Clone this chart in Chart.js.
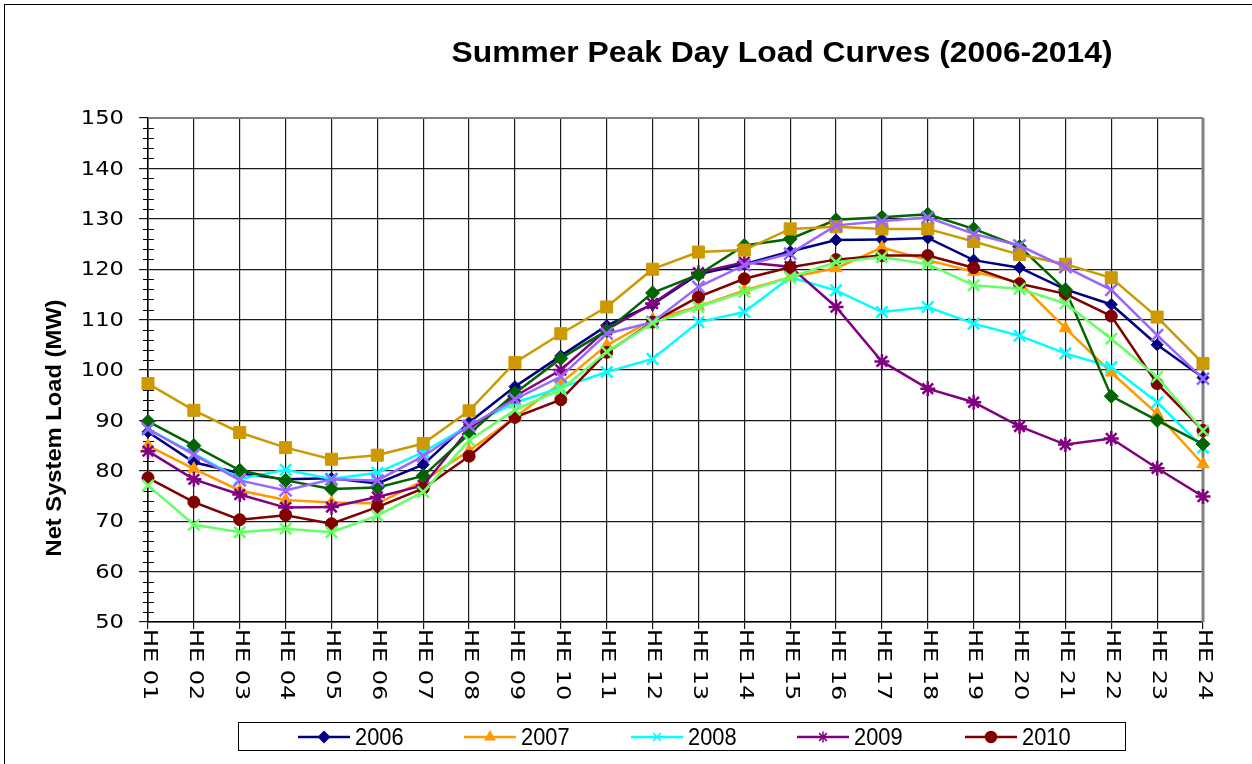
<!DOCTYPE html>
<html>
<head>
<meta charset="utf-8">
<title>Summer Peak Day Load Curves</title>
<script src="https://cdn.jsdelivr.net/npm/chart.js@4.4.1/dist/chart.umd.min.js"></script>
<style>
    html, body { margin: 0; padding: 0; background: #fff; }
    #wrap { width: 1252px; height: 764px; }
</style>
</head>
<body>
<div id="wrap"><canvas id="loadChart" width="1252" height="764"></canvas></div>
<script>
// Часы суток (ось X)
const hourLabels = ['HE 01', 'HE 02', 'HE 03', 'HE 04', 'HE 05', 'HE 06', 'HE 07', 'HE 08',
    'HE 09', 'HE 10', 'HE 11', 'HE 12', 'HE 13', 'HE 14', 'HE 15', 'HE 16',
    'HE 17', 'HE 18', 'HE 19', 'HE 20', 'HE 21', 'HE 22', 'HE 23', 'HE 24'];

// Нагрузка по годам, MW
const load2006 = [87.7, 81.7, 79.5, 78.3, 78.5, 77.5, 81.2, 89.6, 96.7, 102.8, 108.8, 113.0,
    119.0, 121.0, 123.5, 125.8, 125.9, 126.2, 121.8, 120.3, 116.0, 113.0, 105.0, 98.5];
const load2007 = [85.0, 80.4, 76.1, 74.2, 73.7, 73.5, 78.0, 84.0, 90.6, 97.4, 104.9, 110.0,
    112.6, 115.8, 118.4, 120.2, 124.3, 121.8, 119.5, 117.4, 108.3, 99.5, 91.3, 81.3];
const load2008 = [88.3, 83.4, 78.4, 80.2, 78.4, 79.6, 83.7, 89.0, 93.5, 96.5, 99.6, 102.2,
    109.5, 111.5, 118.4, 115.8, 111.5, 112.5, 109.2, 106.8, 103.3, 100.6, 93.6, 84.6];
const load2009 = [83.9, 78.3, 75.3, 72.7, 72.8, 74.8, 77.1, 88.3, 94.8, 100.0, 108.0, 113.2,
    119.3, 121.4, 120.5, 112.5, 101.7, 96.3, 93.6, 88.8, 85.2, 86.4, 80.5, 74.9];
const load2010 = [78.6, 73.8, 70.3, 71.2, 69.5, 72.8, 76.5, 82.9, 90.6, 94.1, 103.5, 109.5,
    114.5, 118.1, 120.4, 121.9, 122.7, 122.7, 120.3, 117.1, 115.1, 110.7, 97.3, 88.0];
const load2011 = [89.8, 85.0, 80.1, 78.1, 76.4, 76.7, 79.0, 87.3, 95.4, 102.3, 107.8, 115.3,
    118.9, 124.7, 126.0, 129.8, 130.3, 130.9, 128.0, 124.5, 115.9, 94.8, 90.0, 85.3];
const load2012 = [97.3, 92.0, 87.6, 84.6, 82.3, 83.1, 85.4, 91.9, 101.5, 107.2, 112.5, 120.0,
    123.4, 123.8, 128.0, 128.4, 128.0, 128.0, 125.5, 122.9, 121.0, 118.3, 110.5, 101.3];
const load2013 = [88.3, 83.2, 78.1, 76.1, 78.3, 78.1, 82.9, 88.9, 94.2, 98.7, 107.2, 109.5,
    116.5, 120.8, 123.1, 128.7, 129.5, 130.3, 127.0, 124.7, 120.4, 115.9, 106.9, 98.3];
const load2014 = [77.1, 69.3, 67.8, 68.5, 67.8, 71.1, 75.8, 86.0, 92.1, 96.1, 103.6, 109.3,
    112.5, 115.5, 118.4, 121.4, 122.4, 121.0, 116.8, 116.1, 113.2, 106.2, 98.6, 88.0];

const yearLabels = ['2006', '2007', '2008', '2009', '2010', '2011', '2012', '2013', '2014'];
const yMin = 50, yMax = 150, yStep = 10, yMinorStep = 2;

// Стиль серий (цвет, маркер, размер)
const seriesStyle = [
    { color: '#000080', point: 'rectRot', r: 6 },
    { color: '#FF9900', point: 'triangle', r: 7 },
    { color: '#00FFFF', point: 'crossRot', r: 8 },
    { color: '#800080', point: 'star', r: 7.5 },
    { color: '#800000', point: 'circle', r: 6 },
    { color: '#006400', point: 'rectRot', r: 7 },
    { color: '#CC9900', point: 'rect', r: 8.5 },
    { color: '#9966FF', point: 'crossRot', r: 8.5 },
    { color: '#66FF66', point: 'crossRot', r: 8 }
];
const seriesData = [load2006, load2007, load2008, load2009, load2010, load2011, load2012, load2013, load2014];

const datasets = seriesData.map((values, i) => {
    const st = seriesStyle[i];
    const isCross = st.point === 'crossRot' || st.point === 'star';
    return {
        label: yearLabels[i],
        data: values,
        borderColor: st.color,
        backgroundColor: st.color,
        borderWidth: 2.5,
        pointStyle: st.point,
        pointRadius: st.r,
        pointBorderWidth: isCross ? 2.5 : 1,
        pointBackgroundColor: st.color,
        pointBorderColor: st.color,
        tension: 0,
        order: seriesData.length - i   // более поздние годы поверх
    };
});

// Подписи, легенда и рамки
const decorPlugin = {
    id: 'decor',
    beforeDraw(chart) {
        const ctx = chart.ctx;
        ctx.save();
        ctx.fillStyle = '#fff';
        ctx.fillRect(0, 0, chart.width, chart.height);
        ctx.strokeStyle = '#000';
        ctx.lineWidth = 1;
        ctx.strokeRect(4.5, 4.5, chart.width + 20, chart.height + 20);
        ctx.restore();
    },
    beforeDatasetsDraw(chart) {
        const { ctx, chartArea, scales } = chart;
        ctx.save();
        // малые деления по Y
        ctx.strokeStyle = '#000';
        ctx.lineWidth = 1;
        for (let v = yMin; v <= yMax; v += yMinorStep) {
            if (v % yStep === 0) continue;
            const y = Math.round(scales.y.getPixelForValue(v)) + 0.5;
            ctx.beginPath();
            ctx.moveTo(chartArea.left - 5, y);
            ctx.lineTo(chartArea.left + 6, y);
            ctx.stroke();
        }
        // рамка области построения
        ctx.strokeStyle = '#808080';
        ctx.lineWidth = 2;
        ctx.beginPath();
        ctx.moveTo(chartArea.left, chartArea.top);
        ctx.lineTo(chartArea.right, chartArea.top);
        ctx.stroke();
        ctx.lineWidth = 3;
        ctx.beginPath();
        ctx.moveTo(chartArea.right, chartArea.top);
        ctx.lineTo(chartArea.right, chartArea.bottom);
        ctx.stroke();

        ctx.fillStyle = '#000';
        // подписи Y (чуть растянуты по ширине, как в оригинале)
        ctx.font = '20px "DejaVu Sans"';
        ctx.textAlign = 'right';
        ctx.textBaseline = 'middle';
        scales.y.ticks.forEach(t => {
            const y = scales.y.getPixelForValue(t.value);
            ctx.save();
            ctx.translate(124, y + 1);
            ctx.scale(1.13, 1);
            ctx.fillText(String(t.value), 0, 0);
            ctx.restore();
        });
        // подписи X, повернутые по часовой стрелке
        ctx.textAlign = 'left';
        hourLabels.forEach((lbl, i) => {
            const x = scales.x.getPixelForValue(i);
            ctx.save();
            ctx.translate(x + 1, chartArea.bottom + 7);
            ctx.rotate(Math.PI / 2);
            ctx.scale(1.2, 1);
            ctx.fillText(lbl, 0, 0);
            ctx.restore();
        });
        ctx.restore();
    },
    afterDraw(chart) {
        const ctx = chart.ctx;
        ctx.save();
        ctx.fillStyle = '#000';

        // заголовок
        const title = 'Summer Peak Day Load Curves (2006-2014)';
        ctx.font = 'bold 29px "Liberation Sans"';
        ctx.textAlign = 'center';
        ctx.textBaseline = 'alphabetic';
        let w = ctx.measureText(title).width;
        ctx.save();
        ctx.translate(782, 62);
        ctx.scale(661 / w, 1);
        ctx.fillText(title, 0, 0);
        ctx.restore();

        // подпись оси Y
        const yTitle = 'Net System Load (MW)';
        ctx.font = 'bold 22px "Liberation Sans"';
        ctx.textBaseline = 'middle';
        w = ctx.measureText(yTitle).width;
        ctx.save();
        ctx.translate(55, 428);
        ctx.rotate(-Math.PI / 2);
        ctx.scale(257 / w, 1);
        ctx.fillText(yTitle, 0, 0);
        ctx.restore();

        // легенда (видны только первые пять серий)
        ctx.strokeStyle = '#000';
        ctx.lineWidth = 1;
        ctx.strokeRect(238.5, 722.5, 887, 28);
        const legendY = 737;
        const startX = [298, 464, 631, 797, 965];
        ctx.font = '23px "Liberation Sans"';
        ctx.textAlign = 'left';
        startX.forEach((x0, i) => {
            const st = seriesStyle[i];
            ctx.strokeStyle = st.color;
            ctx.fillStyle = st.color;
            ctx.lineWidth = 2.5;
            ctx.beginPath();
            ctx.moveTo(x0, legendY);
            ctx.lineTo(x0 + 52, legendY);
            ctx.stroke();
            ctx.lineWidth = 1.5;
            Chart.helpers.drawPoint(ctx, {
                pointStyle: st.point,
                radius: st.point === 'rect' ? 6 : 5.5,
                rotation: 0,
                borderWidth: 1.5
            }, x0 + 26, legendY);
            ctx.fillStyle = '#000';
            ctx.save();
            ctx.translate(x0 + 57, legendY + 1);
            ctx.scale(0.95, 1.05);
            ctx.fillText(yearLabels[i], 0, 0);
            ctx.restore();
        });
        ctx.restore();
    }
};

new Chart(document.getElementById('loadChart'), {
    type: 'line',
    data: { labels: hourLabels, datasets: datasets },
    options: {
        responsive: false,
        animation: false,
        devicePixelRatio: 1,
        layout: { padding: { top: 118, right: 49, left: 0, bottom: 0 } },
        plugins: {
            legend: { display: false },
            title: { display: false },
            tooltip: { enabled: false }
        },
        scales: {
            x: {
                type: 'category',
                offset: false,
                grid: { color: '#1a1a1a', lineWidth: 1.2, drawTicks: true, tickLength: 7 },
                border: { color: '#000', width: 1.5 },
                ticks: { display: false },
                afterFit(scale) { scale.height = 142; }
            },
            y: {
                min: yMin,
                max: yMax,
                ticks: { stepSize: yStep, display: false },
                grid: { color: '#1a1a1a', lineWidth: 1.2, tickLength: 9 },
                border: { color: '#000', width: 1.5 },
                afterFit(scale) { scale.width = 148; }
            }
        }
    },
    plugins: [decorPlugin]
});
</script>
</body>
</html>
